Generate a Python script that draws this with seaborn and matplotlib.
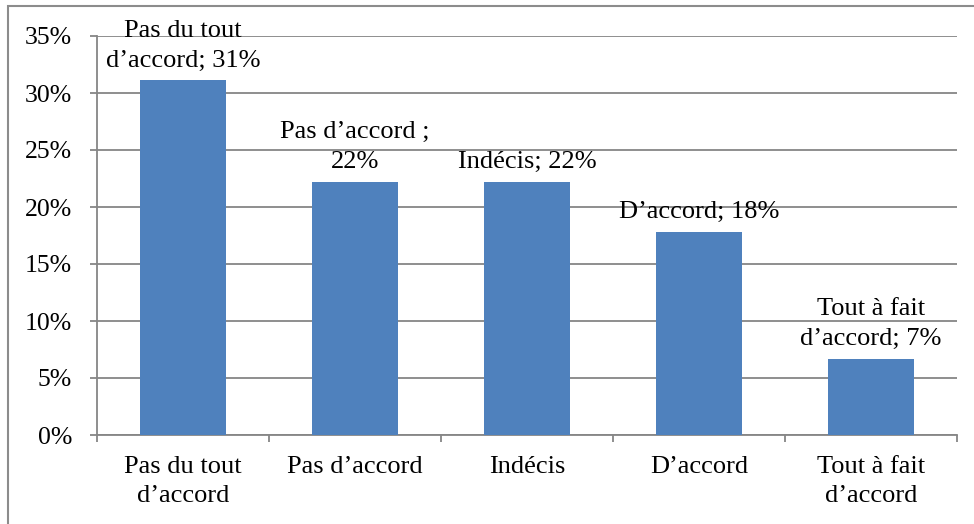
import matplotlib
matplotlib.use("Agg")
import matplotlib.pyplot as plt
from matplotlib.patches import Rectangle
from matplotlib.ticker import FixedLocator, FuncFormatter
import seaborn as sns
import pandas as pd

# Survey responses (share of respondents)
categories = ["Pas du tout\nd’accord", "Pas d’accord", "Indécis", "D’accord", "Tout à fait\nd’accord"]
values = [31.1, 22.2, 22.2, 17.8, 6.7]
label_templates = ["Pas du tout\nd’accord; {}", "Pas d’accord ;\n{}", "Indécis; {}",
                   "D’accord; {}", "Tout à fait\nd’accord; {}"]
y_ticks = [0, 5, 10, 15, 20, 25, 30, 35]

sns.set_theme(style="white")
plt.rcParams["font.family"] = ["Liberation Serif", "DejaVu Serif"]

W, H = 974, 524
fig = plt.figure(figsize=(W / 100, H / 100), dpi=100)
ax = fig.add_axes([97 / W, 1 - 435 / H, (957 - 97) / W, (435 - 36) / H])

df = pd.DataFrame({"cat": categories, "val": values})
sns.barplot(data=df, x="cat", y="val", color="#4F81BD", saturation=1, width=0.5,
            linewidth=0, ax=ax, zorder=3)

grid_c = "#868686"
ax.set_ylim(0, 35)
ax.set_xlim(-0.5, len(categories) - 0.5)
ax.yaxis.set_major_locator(FixedLocator(y_ticks))
ax.yaxis.set_major_formatter(FuncFormatter(lambda v, p: f"{v:.0f}%"))
ax.grid(axis="y", color=grid_c, linewidth=1.3, zorder=0)
ax.set_axisbelow(True)

for side in ["top", "right"]:
    ax.spines[side].set_visible(False)
for side in ["left", "bottom"]:
    ax.spines[side].set_color(grid_c)
    ax.spines[side].set_linewidth(1.3)

ax.tick_params(axis="y", which="major", left=True, length=5, width=1.3, color=grid_c,
               pad=13, labelsize=18.5, labelcolor="black")
ax.set_xticks(range(len(categories)))
ax.set_xticklabels(categories, fontsize=19, linespacing=1.45)
ax.set_xticks([i - 0.5 for i in range(len(categories) + 1)], minor=True)
ax.tick_params(axis="x", which="major", bottom=True, length=0, pad=15, labelcolor="black")
ax.tick_params(axis="x", which="minor", bottom=True, length=5, width=1.3, color=grid_c)
ax.set_xlabel("")
ax.set_ylabel("")

for i, (v, tmpl) in enumerate(zip(values, label_templates)):
    ax.annotate(tmpl.format(f"{v:.0f}%"), xy=(i, v), xytext=(0, 10),
                textcoords="offset points", ha="center", va="baseline",
                fontsize=19, multialignment="center", linespacing=1.45,
                color="black", zorder=5, annotation_clip=False)

# Frame around the chart area
fig.patches.append(Rectangle((8 / W, -0.1), 1.2, 1 - 6 / H + 0.1, transform=fig.transFigure,
                             fill=False, edgecolor="#8c8c8c", linewidth=1.5, zorder=0))

fig.savefig("out.png", dpi=100)
